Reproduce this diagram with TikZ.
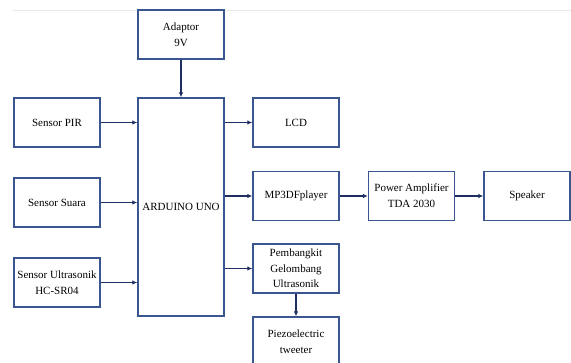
\documentclass[tikz,border=0pt]{standalone}
\usepackage{fontspec}
\setmainfont{Liberation Serif}
\usetikzlibrary{arrows.meta}
\definecolor{boxblue}{HTML}{3A5590}
\definecolor{arrowblue}{HTML}{1F2E60}
\definecolor{faint}{HTML}{E8E8E8}
\tikzset{
  blk/.style={draw=boxblue, line width=1.3pt, fill=white, minimum width=86pt, minimum height=49pt,
    inner sep=0pt, align=center, font=\fontsize{11}{16}\selectfont, text=black},
  conn/.style={draw=arrowblue, line width=1.4pt, -{Latex[length=5pt,width=4.5pt]}}
}
\begin{document}
\begin{tikzpicture}[x=1pt,y=-1pt]
\useasboundingbox (0,0) rectangle (571,362);
\draw[faint, line width=0.8pt] (13,10) -- (571,10);
\clip (0,0) rectangle (571,362);
\node[blk] (ada) at (181,34.5) {Adaptor\\9V};
\node[blk, minimum height=218pt] (ard) at (181,207) {ARDUINO UNO};
\node[blk] (pir) at (57,122.5) {Sensor PIR};
\node[blk] (sua) at (57,202.5) {Sensor Suara};
\node[blk] (ult) at (57,282.5) {Sensor Ultrasonik\\HC-SR04};
\node[blk] (lcd) at (296,122.5) {LCD};
\node[blk] (mp3) at (296,196) {MP3DFplayer};
\node[blk] (amp) at (411.5,196) {Power Amplifier\\TDA 2030};
\node[blk] (spk) at (527,196) {Speaker};
\node[blk, font=\fontsize{11}{15.5}\selectfont] (pem) at (296,268.5) {Pembangkit\\Gelombang\\Ultrasonik};
\node[blk] (pie) at (296,341.5) {Piezoelectric\\tweeter};
\draw[conn] (ada) -- (ard);
\draw[conn] (pir.east) -- (pir.east -| ard.west);
\draw[conn] (sua.east) -- (sua.east -| ard.west);
\draw[conn] (ult.east) -- (ult.east -| ard.west);
\draw[conn] (ard.east |- lcd.west) -- (lcd.west);
\draw[conn] (ard.east |- mp3.west) -- (mp3.west);
\draw[conn] (ard.east |- pem.west) -- (pem.west);
\draw[conn] (mp3) -- (amp);
\draw[conn] (amp) -- (spk);
\draw[conn] (pem) -- (pie);
\end{tikzpicture}
\end{document}
